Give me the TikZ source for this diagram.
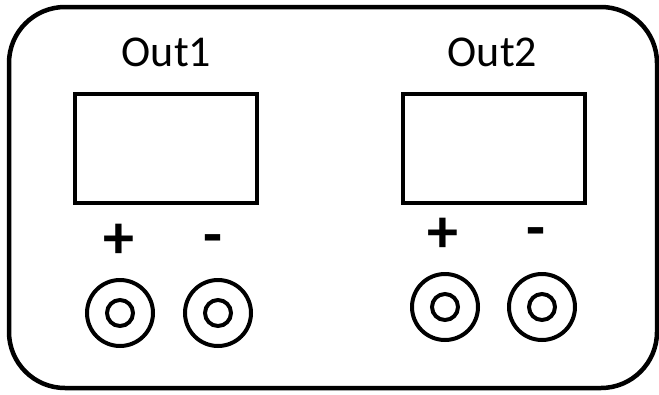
\documentclass[tikz,border=0pt]{standalone}
\usepackage{fontspec}
\setmainfont{Carlito}
\begin{document}
\begin{tikzpicture}[x=1pt,y=-1pt,
  frame/.style={line width=4.5pt},
  display/.style={draw,line width=4pt,minimum width=182pt,minimum height=109pt,inner sep=0pt},
  title/.style={font=\fontsize{44}{50}\selectfont,anchor=base,inner sep=0pt},
  pol/.style={font=\fontsize{62}{70}\selectfont\bfseries,inner sep=0pt},
  jack/.style={draw,circle,line width=4pt,minimum size=66pt,inner sep=0pt},
  pin/.style={draw,circle,line width=4pt,minimum size=26pt,inner sep=0pt}]
\useasboundingbox (0,0) rectangle (659,394);
\draw[frame,rounded corners=56pt] (9,7) rectangle (657,388);
\node[title] (t1) at (166.5,66) {Out1};
\node[title] (t2) at (492.5,66) {Out2};
\node[display] (d1) at (166,148.5) {};
\node[display] (d2) at (494,148.5) {};
\node[pol] (p1) at (119,241) {+};
\node[pol] (m1) at (213,245) {-};
\node[pol] (p2) at (443,235) {+};
\node[pol] (m2) at (536,238) {-};
\node[jack] (j1) at (120,313) {};
\node[pin] (i1) at (j1) {};
\node[jack] (j2) at (218,313) {};
\node[pin] (i2) at (j2) {};
\node[jack] (j3) at (445,307) {};
\node[pin] (i3) at (j3) {};
\node[jack] (j4) at (542,307) {};
\node[pin] (i4) at (j4) {};
\end{tikzpicture}
\end{document}
